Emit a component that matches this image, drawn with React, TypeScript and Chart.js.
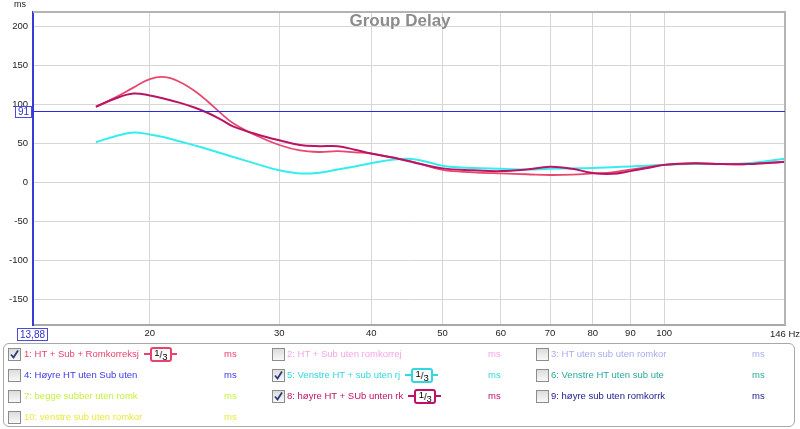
import React, { useEffect, useRef } from "react";
import { Chart, registerables } from "chart.js";

Chart.register(...registerables);

// ---- Data ----
const freqs = [16.9, 18, 19, 20, 21, 22, 23, 24, 25, 26, 28, 30, 32, 34, 36, 38, 40, 43, 46, 50, 55, 60, 65, 70, 75, 80, 85, 90, 95, 100, 110, 120, 130, 146];
const series1 = [96.5, 109, 121, 132, 134.5, 128, 117, 103, 88, 75, 59, 47.5, 40.5, 38.5, 39.5, 38, 36.5, 31, 25, 15.5, 12.5, 11, 10, 9, 9.5, 11, 12.5, 16, 19, 22, 24, 23, 23, 26];
const series5 = [51, 59, 63.5, 61, 57, 52, 47, 42, 37, 32, 23, 15, 11, 12, 16, 20, 24, 29, 29, 21, 18, 17, 16, 17, 17.5, 18, 19, 20, 21, 22, 23, 23, 24, 30];
const series8 = [96.5, 107.5, 113.5, 111, 106.5, 101.5, 95.5, 88.5, 80, 71, 61, 53.5, 47.5, 46, 46, 41.5, 36.5, 31, 24.5, 17.5, 15, 14, 16, 19.5, 17, 11.5, 10.5, 14, 18, 22, 24, 23, 23, 26];
const xTicks = [20, 30, 40, 50, 60, 70, 80, 90, 100];
const yTicks = [-150, -100, -50, 0, 50, 100, 150, 200];
const xMin = 13.88;
const xMax = 146;
const yMin = -183.3;
const yMax = 218;
const cursorValue = 91;

const legendNames = [
  "1: HT + Sub + Romkorreksj",
  "2: HT + Sub uten romkorrej",
  "3: HT uten sub uten romkor",
  "4: Høyre HT uten Sub uten",
  "5: Venstre HT + sub uten rj",
  "6: Venstre HT uten sub ute",
  "7: begge subber uten romk",
  "8: høyre HT + SUb unten rk",
  "9: høyre sub uten romkorrk",
  "10: venstre sub uten romkor",
];
const legendColors = ["#e8426e", "#f5a6e6", "#aaaaf0", "#3a3ae6", "#30d8e0", "#2aa8a0", "#c8f040", "#c0106a", "#20208c", "#e8e840"];
const legendChecked = [true, false, false, false, true, false, false, true, false, false];

const PINK = "rgb(232,72,112)";
const MAGENTA = "rgb(186,20,100)";
const CYAN = "rgb(50,238,238)";

const tickFont = { family: "'Liberation Sans', Arial, sans-serif", size: 9.5 };

const overlayPlugin = {
  id: "overlay",
  afterDraw(chart: any) {
    const { ctx, chartArea } = chart;
    const ys = chart.scales.y;
    ctx.save();
    // top & right frame
    ctx.strokeStyle = "#b4b4b4";
    ctx.lineWidth = 2;
    ctx.beginPath();
    ctx.moveTo(chartArea.left, chartArea.top);
    ctx.lineTo(chartArea.right, chartArea.top);
    ctx.lineTo(chartArea.right, chartArea.bottom);
    ctx.stroke();
    // title
    ctx.fillStyle = "#8c8c8c";
    ctx.font = "bold 17px 'Liberation Sans', Arial, sans-serif";
    ctx.textAlign = "center";
    ctx.textBaseline = "middle";
    ctx.fillText("Group Delay", 400, 21);
    // ms unit
    ctx.fillStyle = "#222";
    ctx.font = "9px 'Liberation Sans', Arial, sans-serif";
    ctx.textAlign = "left";
    ctx.fillText("ms", 14, 5);
    // 146 Hz label
    ctx.font = "9.5px 'Liberation Sans', Arial, sans-serif";
    ctx.fillText("146 Hz", 770, 334);
    // cursor line
    const cy = Math.round(ys.getPixelForValue(cursorValue)) + 0.5;
    ctx.strokeStyle = "#2a2ae0";
    ctx.lineWidth = 1;
    ctx.beginPath();
    ctx.moveTo(chartArea.left, cy);
    ctx.lineTo(chartArea.right, cy);
    ctx.stroke();
    // value boxes
    const box = (x: number, y: number, w: number, h: number, t: string) => {
      ctx.fillStyle = "#fff";
      ctx.fillRect(x, y, w, h);
      ctx.strokeStyle = "#4a4ad8";
      ctx.lineWidth = 1;
      ctx.strokeRect(x + 0.5, y + 0.5, w, h);
      ctx.fillStyle = "#3030d0";
      ctx.font = "10px 'Liberation Sans', Arial, sans-serif";
      ctx.textAlign = "center";
      ctx.textBaseline = "middle";
      ctx.fillText(t, x + w / 2 + 0.5, y + h / 2 + 1);
    };
    box(15, 106, 16, 11, String(cursorValue));
    box(17, 328, 30, 12, String(xMin).replace(".", ","));
    ctx.restore();
  },
};

function Checkbox({ checked }: { checked: boolean }) {
  return (
    <span
      style={{
        position: "absolute",
        width: 11,
        height: 11,
        border: "1px solid #8c8c8c",
        background: "linear-gradient(#dcdcdc, #f8f8f8)",
        boxSizing: "content-box",
      }}
    >
      {checked && (
        <svg width="11" height="11" style={{ position: "absolute", left: 0, top: 0 }}>
          <path d="M2 5.5 L4.5 8.5 L9 1.5" stroke="#2c3c78" strokeWidth="1.8" fill="none" />
        </svg>
      )}
    </span>
  );
}

function Badge({ color }: { color: string }) {
  return (
    <span style={{ display: "inline-flex", alignItems: "center", marginLeft: 5, verticalAlign: "middle" }}>
      <span style={{ width: 6, height: 2, background: color }} />
      <span
        style={{
          width: 18,
          height: 11,
          border: `2px solid ${color}`,
          borderRadius: 3,
          background: "#fff",
          color: "#000",
          fontSize: 9.5,
          lineHeight: "11px",
          textAlign: "center",
          position: "relative",
        }}
      >
        <span style={{ position: "relative", top: -2 }}>1</span>/<span style={{ position: "relative", top: 2 }}>3</span>
      </span>
      <span style={{ width: 5, height: 2, background: color }} />
    </span>
  );
}

function Legend() {
  const colCheck = [8, 272, 536];
  const colText = [24, 287, 551];
  const colMs = [224, 488, 752];
  const rowY = [354, 375, 396, 417];
  const items = legendNames.map((name, i) => {
    const col = i % 3;
    const row = Math.floor(i / 3);
    const cy = rowY[row];
    const color = legendColors[i];
    return (
      <React.Fragment key={i}>
        <div style={{ position: "absolute", left: colCheck[col], top: cy - 6 }}>
          <Checkbox checked={legendChecked[i]} />
        </div>
        <div
          style={{
            position: "absolute",
            left: colText[col],
            top: cy - 8,
            height: 16,
            lineHeight: "16px",
            color,
            whiteSpace: "nowrap",
            display: "flex",
            alignItems: "center",
          }}
        >
          <span>{name}</span>
          {legendChecked[i] && <Badge color={color} />}
        </div>
        <div style={{ position: "absolute", left: colMs[col], top: cy - 8, lineHeight: "16px", color }}>ms</div>
      </React.Fragment>
    );
  });
  return (
    <div
      style={{
        position: "absolute",
        left: 0,
        top: 0,
        width: 800,
        height: 429,
        pointerEvents: "none",
        fontFamily: "'Liberation Sans', Arial, sans-serif",
        fontSize: 9.5,
      }}
    >
      <div
        style={{
          position: "absolute",
          left: 3,
          top: 343,
          width: 790,
          height: 82,
          border: "1px solid #a8a8a8",
          borderRadius: 6,
        }}
      />
      {items}
    </div>
  );
}

export default function App() {
  const ref = useRef<HTMLCanvasElement | null>(null);
  useEffect(() => {
    if (!ref.current) return;
    const mk = (vals: number[]) => freqs.map((f, i) => ({ x: f, y: vals[i] }));
    const chart = new Chart(ref.current, {
      type: "line",
      data: {
        datasets: [
          { label: "8", data: mk(series8), borderColor: MAGENTA, borderWidth: 2 },
          { label: "1", data: mk(series1), borderColor: PINK, borderWidth: 1.8 },
          { label: "5", data: mk(series5), borderColor: CYAN, borderWidth: 2 },
        ],
      },
      options: {
        animation: false,
        responsive: false,
        maintainAspectRatio: false,
        layout: { padding: { left: 0, top: 12, right: 15, bottom: 84 } },
        elements: {
          point: { radius: 0 },
          line: { tension: 0.4, fill: false },
        },
        plugins: {
          legend: { display: false },
          tooltip: { enabled: false },
          title: { display: false },
        },
        scales: {
          x: {
            type: "logarithmic",
            min: xMin,
            max: xMax,
            afterBuildTicks: (s: any) => {
              s.ticks = xTicks.map((v) => ({ value: v }));
            },
            afterFit: (s: any) => {
              s.height = 20;
            },
            ticks: {
              autoSkip: false,
              maxRotation: 0,
              padding: 3,
              color: "#222",
              font: tickFont,
              callback: (v: any) => String(v),
            },
            grid: { color: "#d6d6d6", drawTicks: false, lineWidth: 1 },
            border: { color: "#a8a8a8", width: 2 },
          },
          y: {
            type: "linear",
            min: yMin,
            max: yMax,
            afterBuildTicks: (s: any) => {
              s.ticks = yTicks.map((v) => ({ value: v }));
            },
            afterFit: (s: any) => {
              s.width = 33;
            },
            ticks: {
              padding: 5,
              color: "#222",
              font: tickFont,
              callback: (v: any) => String(v),
            },
            grid: { color: "#d6d6d6", drawTicks: false, lineWidth: 1 },
            border: { color: "#3a3ad8", width: 2 },
          },
        },
      },
      plugins: [overlayPlugin],
    } as any);
    return () => chart.destroy();
  }, []);
  return (
    <div style={{ position: "absolute", left: 0, top: 0, width: 800, height: 429, background: "#fff" }}>
      <canvas ref={ref} width={800} height={429} style={{ position: "absolute", left: 0, top: 0, width: 800, height: 429 }} />
      <Legend />
    </div>
  );
}
